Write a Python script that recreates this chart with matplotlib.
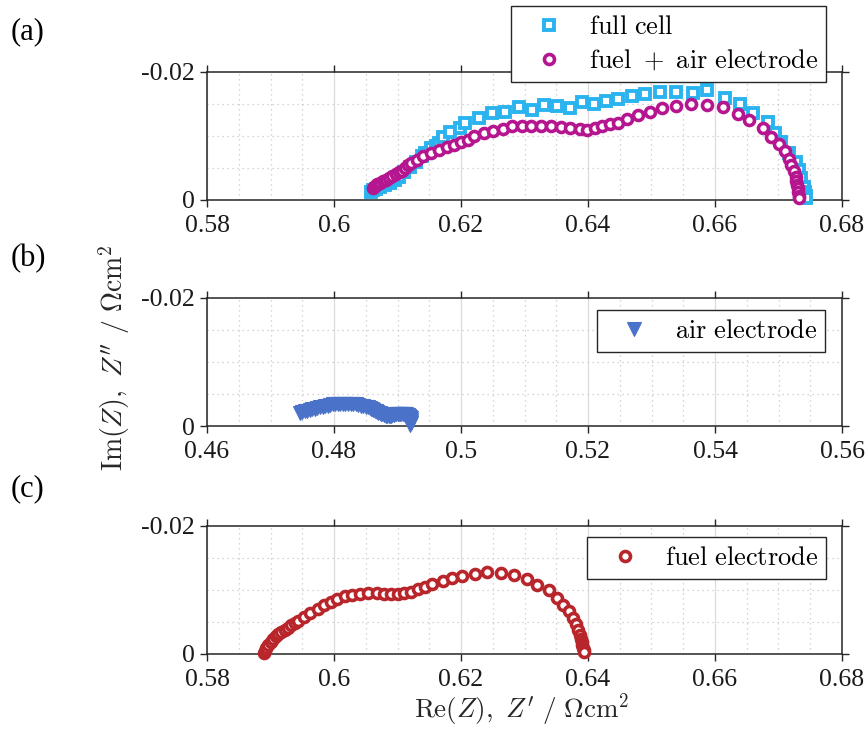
import matplotlib
matplotlib.use("Agg")
import matplotlib.pyplot as plt
from matplotlib.ticker import MultipleLocator

plt.rcParams['mathtext.fontset'] = 'cm'

# ---------------- data ----------------
# (a) full cell
full_re = [0.6059, 0.6062, 0.6066, 0.6072, 0.6080, 0.6088, 0.6096, 0.6103, 0.6111, 0.6119,
           0.6129, 0.6138, 0.6144, 0.6153, 0.6160, 0.6166, 0.6172, 0.6182, 0.6198, 0.6206,
           0.6229, 0.6249, 0.6270, 0.6291, 0.6312, 0.6330, 0.6351, 0.6371, 0.6390, 0.6410,
           0.6429, 0.6448, 0.6470, 0.6490, 0.6513, 0.6539, 0.6565, 0.6588, 0.6616, 0.6639,
           0.6660, 0.6683, 0.6695, 0.6704, 0.6717, 0.6727, 0.6732, 0.6736, 0.6740, 0.6742,
           0.6743, 0.6744]
full_im = [-0.0013, -0.0015, -0.0017, -0.0021, -0.0023, -0.0026, -0.0031, -0.0036, -0.0044, -0.0052,
           -0.0060, -0.0068, -0.0074, -0.0081, -0.0085, -0.0089, -0.0099, -0.0107, -0.0112, -0.0121,
           -0.0128, -0.0136, -0.0137, -0.0146, -0.0141, -0.0148, -0.0147, -0.0143, -0.0153, -0.0150,
           -0.0154, -0.0158, -0.0163, -0.0166, -0.0168, -0.0168, -0.0167, -0.0172, -0.0159, -0.0150,
           -0.0136, -0.0122, -0.0104, -0.0091, -0.0073, -0.0060, -0.0047, -0.0034, -0.0021, -0.0013,
           -0.0007, -0.0003]

# (a) fuel + air electrode
fa_re = [0.6061, 0.6064, 0.6068, 0.6072, 0.6077, 0.6082, 0.6087, 0.6092, 0.6097, 0.6102,
         0.6107, 0.6112, 0.6117, 0.6121, 0.6130, 0.6140, 0.6152, 0.6165, 0.6178, 0.6189,
         0.6200, 0.6211, 0.6221, 0.6237, 0.6251, 0.6266, 0.6280, 0.6296, 0.6311, 0.6326,
         0.6342, 0.6358, 0.6372, 0.6387, 0.6398, 0.6411, 0.6422, 0.6435, 0.6448, 0.6462,
         0.6479, 0.6497, 0.6516, 0.6539, 0.6562, 0.6588, 0.6612, 0.6637, 0.6654, 0.6675,
         0.6688, 0.6700, 0.6710, 0.6717, 0.6720, 0.6725, 0.6727, 0.6728, 0.6729, 0.6730,
         0.6731, 0.6732, 0.6733]
fa_im = [-0.0018, -0.0022, -0.0025, -0.0027, -0.0029, -0.0031, -0.0034, -0.0037, -0.0040, -0.0043,
         -0.0046, -0.0050, -0.0054, -0.0058, -0.0063, -0.0068, -0.0073, -0.0078, -0.0083, -0.0086,
         -0.0091, -0.0094, -0.0100, -0.0104, -0.0108, -0.0111, -0.0115, -0.0116, -0.0116, -0.0116,
         -0.0115, -0.0114, -0.0112, -0.0111, -0.0110, -0.0112, -0.0115, -0.0118, -0.0121, -0.0126,
         -0.0133, -0.0138, -0.0143, -0.0147, -0.0150, -0.0148, -0.0145, -0.0135, -0.0125, -0.0113,
         -0.0099, -0.0088, -0.0077, -0.0064, -0.0055, -0.0046, -0.0036, -0.0030, -0.0024, -0.0018,
         -0.0012, -0.0007, -0.0003]

# (b) air electrode
air_re = [0.4746, 0.4750, 0.4754, 0.4758, 0.4762, 0.4766, 0.4770, 0.4774, 0.4778, 0.4782,
          0.4786, 0.4790, 0.4794, 0.4798, 0.4802, 0.4806, 0.4810, 0.4814, 0.4818, 0.4822,
          0.4826, 0.4830, 0.4834, 0.4838, 0.4842, 0.4846, 0.4850, 0.4854, 0.4856, 0.4858,
          0.4860, 0.4862, 0.4864, 0.4866, 0.4868, 0.4870, 0.4872, 0.4874, 0.4876, 0.4878,
          0.4880, 0.4882, 0.4884, 0.4886, 0.4888, 0.4890, 0.4892, 0.4894, 0.4896, 0.4898,
          0.4900, 0.4902, 0.4904, 0.4906, 0.4908, 0.4910, 0.4912, 0.4914, 0.4916, 0.4918,
          0.4920, 0.4921, 0.4922, 0.4922, 0.4921, 0.4920]
air_im = [-0.0021, -0.0022, -0.0023, -0.0024, -0.0025, -0.0026, -0.0027, -0.0028, -0.0029, -0.0030,
          -0.0031, -0.0032, -0.0033, -0.0034, -0.0034, -0.0035, -0.0035, -0.0035, -0.0035, -0.0035,
          -0.0035, -0.0034, -0.0034, -0.0033, -0.0032, -0.0031, -0.0030, -0.0029, -0.0028, -0.0027,
          -0.0026, -0.0025, -0.0024, -0.0023, -0.0022, -0.0021, -0.0020, -0.0019, -0.0018, -0.0017,
          -0.0017, -0.0016, -0.0016, -0.0016, -0.0016, -0.0016, -0.0017, -0.0017, -0.0018, -0.0018,
          -0.0018, -0.0019, -0.0019, -0.0019, -0.0019, -0.0019, -0.0019, -0.0018, -0.0017, -0.0016,
          -0.0014, -0.0012, -0.0009, -0.0006, -0.0004, -0.0002]

# (c) fuel electrode
fuel_re = [0.5889, 0.5891, 0.5893, 0.5896, 0.5900, 0.5904, 0.5908, 0.5912, 0.5917, 0.5923,
           0.5928, 0.5933, 0.5939, 0.5944, 0.5953, 0.5962, 0.5975, 0.5984, 0.5995, 0.6004,
           0.6017, 0.6028, 0.6041, 0.6054, 0.6067, 0.6079, 0.6090, 0.6101, 0.6110, 0.6122,
           0.6132, 0.6143, 0.6155, 0.6171, 0.6186, 0.6202, 0.6222, 0.6241, 0.6263, 0.6283,
           0.6304, 0.6319, 0.6339, 0.6351, 0.6361, 0.6370, 0.6376, 0.6381, 0.6385, 0.6388,
           0.6389, 0.6390, 0.6391, 0.6392, 0.6393, 0.6394]
fuel_im = [-0.0001, -0.0005, -0.0009, -0.0014, -0.0019, -0.0024, -0.0028, -0.0031, -0.0034, -0.0038,
           -0.0041, -0.0045, -0.0048, -0.0052, -0.0058, -0.0064, -0.0070, -0.0077, -0.0081, -0.0086,
           -0.0090, -0.0092, -0.0093, -0.0095, -0.0095, -0.0094, -0.0093, -0.0093, -0.0095, -0.0097,
           -0.0101, -0.0104, -0.0109, -0.0114, -0.0118, -0.0122, -0.0125, -0.0128, -0.0127, -0.0124,
           -0.0117, -0.0108, -0.0100, -0.0088, -0.0077, -0.0067, -0.0057, -0.0047, -0.0038, -0.0030,
           -0.0024, -0.0019, -0.0014, -0.0010, -0.0006, -0.0003]

xt_a = [0.58, 0.60, 0.62, 0.64, 0.66, 0.68]
xl_a = ['0.58', '0.6', '0.62', '0.64', '0.66', '0.68']
xt_b = [0.46, 0.48, 0.50, 0.52, 0.54, 0.56]
xl_b = ['0.46', '0.48', '0.5', '0.52', '0.54', '0.56']
yt = [-0.02, 0.0]
yl = ['-0.02', '0']

# ---------------- styling ----------------
W, H = 868, 730
fig = plt.figure(figsize=(W / 100, H / 100), dpi=100)

def ax_rect(top_px, bot_px, left_px=207, right_px=842):
    return [left_px / W, 1 - bot_px / H, (right_px - left_px) / W, (bot_px - top_px) / H]

serif = 'Liberation Serif'
tick_fs = 18.5
spine_c = '#262626'

def style(ax, xticks, xlabels, xlim):
    ax.set_xlim(*xlim)
    ax.set_ylim(0, -0.02)
    ax.set_xticks(xticks)
    ax.set_xticklabels(xlabels, fontfamily=serif, fontsize=tick_fs)
    ax.set_yticks(yt)
    ax.set_yticklabels(yl, fontfamily=serif, fontsize=tick_fs)
    ax.xaxis.set_minor_locator(MultipleLocator(0.005))
    ax.yaxis.set_minor_locator(MultipleLocator(0.005))
    ax.tick_params(which='major', direction='out', length=5, width=1.0, color=spine_c,
                   top=True, right=True, labeltop=False, labelright=False, pad=4,
                   labelcolor='#1a1a1a')
    ax.tick_params(axis='x', which='major', pad=6)
    ax.tick_params(which='minor', length=0)
    ax.grid(which='major', axis='x', color='#dcdcdc', linewidth=0.9, linestyle='-')
    ax.grid(which='minor', color='#c8c8c8', linewidth=0.9, linestyle=(0, (1, 3)))
    ax.set_axisbelow(True)
    for s in ax.spines.values():
        s.set_color(spine_c)
        s.set_linewidth(1.1)

leg_kw = dict(frameon=True, fancybox=False, framealpha=1, edgecolor='#262626',
              borderaxespad=0, handletextpad=0.4, borderpad=0.3, labelspacing=0.3,
              handlelength=2.25, prop={'size': 19})

# (a)
axa = fig.add_axes(ax_rect(72, 200))
style(axa, xt_a, xl_a, (0.58, 0.68))
axa.plot(full_re, full_im, linestyle='none', marker='s', markersize=7,
         markerfacecolor='white', markeredgecolor='#2BB3F0', markeredgewidth=2.8,
         label=r'$\mathrm{full\ cell}$', clip_on=False, zorder=3)
axa.plot(fa_re, fa_im, linestyle='none', marker='o', markersize=7.2,
         markerfacecolor='white', markeredgecolor='#B5168F', markeredgewidth=2.6,
         label=r'$\mathrm{fuel}\ +\ \mathrm{air\ electrode}$', clip_on=False, zorder=4)
lg = axa.legend(loc='upper right', bbox_to_anchor=(0.975, 1.516), **leg_kw)
lg.get_frame().set_linewidth(1.0)
lg.set_zorder(10)

# (b)
axb = fig.add_axes(ax_rect(298, 426))
style(axb, xt_b, xl_b, (0.46, 0.56))
axb.plot(air_re, air_im, linestyle='none', marker='v', markersize=9.5,
         markerfacecolor='#4A72C8', markeredgecolor='#4A72C8', markeredgewidth=0.8,
         label=r'$\mathrm{air\ electrode}$', clip_on=False, zorder=3)
lg = axb.legend(loc='upper right', bbox_to_anchor=(0.973, 0.906), **leg_kw)
lg.get_frame().set_linewidth(1.0)

# (c)
axc = fig.add_axes(ax_rect(526, 654))
style(axc, xt_a, xl_a, (0.58, 0.68))
axc.plot(fuel_re, fuel_im, linestyle='none', marker='o', markersize=7.2,
         markerfacecolor='white', markeredgecolor='#B8262B', markeredgewidth=2.6,
         label=r'$\mathrm{fuel\ electrode}$', clip_on=False, zorder=3)
lg = axc.legend(loc='upper right', bbox_to_anchor=(0.975, 0.914), **leg_kw)
lg.get_frame().set_linewidth(1.0)

# panel labels
for lab, ypx in [('(a)', 32), ('(b)', 259), ('(c)', 489)]:
    fig.text(11 / W, 1 - ypx / H, lab, fontfamily=serif, fontsize=22, va='center', ha='left')

# axis labels
fig.text(114 / W, 1 - 358 / H, r'$\mathrm{Im}(Z),\ Z^{\prime\prime}\ /\ \Omega\mathrm{cm}^2$',
         rotation=90, fontsize=20, ha='center', va='center', color='#262626')
fig.text(522 / W, 1 - 710 / H, r'$\mathrm{Re}(Z),\ Z^{\prime}\ /\ \Omega\mathrm{cm}^2$',
         fontsize=19.5, ha='center', va='center', color='#262626')

fig.savefig('out.png', dpi=100)
